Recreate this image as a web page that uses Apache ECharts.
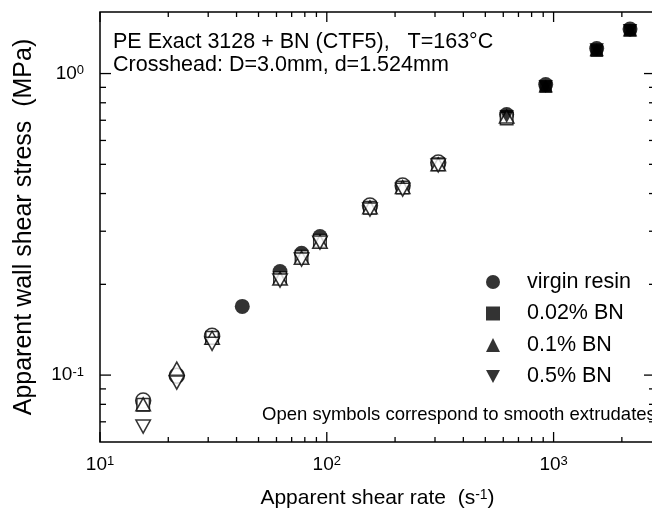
<!DOCTYPE html>
<html>
<head>
<meta charset="utf-8">
<script src="https://cdn.jsdelivr.net/npm/echarts@6/dist/echarts.min.js"></script>
<style>html,body{margin:0;padding:0;background:#fff}#c{width:652px;height:517px}</style>
</head>
<body>
<div id="c"></div>
<script>
// ---- data ----
const shearRate = [15.5, 21.8, 31.2, 42.4, 62.2, 77.4, 93.3, 155, 216, 310, 621, 923, 1549, 2173];
const virginResin = [0.0823, 0.0996, 0.135, 0.169, 0.2205, 0.2535, 0.288, 0.365, 0.425, 0.507, 0.731, 0.919, 1.21, 1.405];
const virginSmooth = [1, 1, 1, 0, 0, 0, 0, 1, 1, 1, 0, 0, 0, 0];
const bn002 = [0.0798, null, 0.133, null, 0.21, 0.247, 0.279, 0.359, 0.419, 0.50, 0.709, 0.905, 1.19, 1.39];
const bn002Smooth = [1, 1, 1, 1, 1, 1, 1, 1, 1, 1, 1, 0, 0, 0];
const bn01 = [0.080, 0.1051, 0.133, null, 0.209, 0.245, 0.277, 0.36, 0.42, 0.50, 0.72, 0.91, 1.20, 1.395];
const bn01Smooth = [1, 1, 1, 1, 1, 1, 1, 1, 1, 1, 1, 0, 0, 0];
const bn05 = [0.0675, 0.0944, 0.127, null, 0.2058, 0.2416, 0.275, 0.354, 0.412, 0.496, 0.72, 0.905, 1.20, 1.39];
const bn05Smooth = [1, 1, 1, 1, 1, 1, 1, 1, 1, 1, 0, 0, 0, 0];
const seriesNames = ['virgin resin', '0.02% BN', '0.1% BN', '0.5% BN'];

const xMajorTicks = [10, 100, 1000];
const xMinorTicks = [20, 30, 40, 50, 60, 70, 80, 90, 200, 300, 400, 500, 600, 700, 800, 900, 2000];
const yMajorTicks = [0.1, 1];
const yMinorTicks = [0.07, 0.08, 0.09, 0.2, 0.3, 0.4, 0.5, 0.6, 0.7, 0.8, 0.9];
const xRange = [10, 2800];
const yRange = [0.06, 1.6];

// ---- chart ----
const FONT = '"Liberation Sans", Arial, Helvetica, sans-serif';
const chart = echarts.init(document.getElementById('c'), null, {renderer: 'canvas'});

function pts(vals, smooth) {
  const out = [];
  vals.forEach((v, i) => {
    if (v == null) return;
    const item = {value: [shearRate[i], v]};
    if (smooth[i]) item.itemStyle = {color: '#fff', borderColor: '#000', borderWidth: 1.5};
    out.push(item);
  });
  return out;
}
function powLabel(v) {
  const e = Math.log10(v);
  const r = Math.round(e);
  if (Math.abs(e - r) > 1e-6) return '';
  return '10{sup|' + r + '}';
}
const supRich = {sup: {fontSize: 13, verticalAlign: 'top', fontFamily: FONT, color: '#000'}};

const tickData = [];
xMajorTicks.forEach(v => tickData.push([v, 1, 0]));
xMinorTicks.forEach(v => tickData.push([v, 1, 1]));
yMajorTicks.forEach(v => tickData.push([20, v, 2]));
yMinorTicks.forEach(v => tickData.push([20, v, 3]));

const downTri = 'path://M0,0L14,0L7,13Z';
const symbols = ['circle', 'rect', 'triangle', downTri];
const sizes = [15, 12.5, [14.5, 13], [14.5, 13]];
const vals = [[virginResin, virginSmooth], [bn002, bn002Smooth], [bn01, bn01Smooth], [bn05, bn05Smooth]];

const scatterSeries = seriesNames.map((n, k) => ({
  name: n, type: 'scatter', symbol: symbols[k], symbolSize: sizes[k],
  itemStyle: {color: '#000'}, emphasis: {disabled: true},
  data: pts(vals[k][0], vals[k][1])
}));

chart.setOption({
  animation: false,
  backgroundColor: '#fff',
  grid: {left: 100, right: -3, top: 12, bottom: 75, containLabel: false, outerBoundsMode: 'none',
         show: true, borderColor: '#000', borderWidth: 1.5, backgroundColor: 'transparent'},
  xAxis: {
    type: 'log', logBase: 10, min: xRange[0], max: xRange[1],
    axisLine: {show: false}, axisTick: {show: false}, splitLine: {show: false},
    axisLabel: {formatter: powLabel, fontSize: 19, fontFamily: FONT, color: '#000', margin: 13, rich: supRich},
    name: 'Apparent shear rate  (s{sup|-1})', nameLocation: 'middle', nameGap: 46,
    nameTextStyle: {fontSize: 21, fontFamily: FONT, color: '#000', rich: {sup: {fontSize: 14, verticalAlign: 'top', fontFamily: FONT, color: '#000'}}}
  },
  yAxis: {
    type: 'log', logBase: 10, min: yRange[0], max: yRange[1],
    axisLine: {show: false}, axisTick: {show: false}, splitLine: {show: false},
    axisLabel: {formatter: powLabel, fontSize: 19, fontFamily: FONT, color: '#000', margin: 16, rich: supRich},
    name: 'Apparent wall shear stress  (MPa)', nameLocation: 'middle', nameGap: 63,
    nameTextStyle: {fontSize: 25, fontFamily: FONT, color: '#000'}
  },
  legend: {
    data: seriesNames, orient: 'vertical', left: 481, top: 266,
    itemWidth: 14, itemHeight: 14, itemGap: 9.5,
    textStyle: {fontSize: 21.5, fontFamily: FONT, color: '#000', padding: [0, 0, 0, 22]},
    selectedMode: false
  },
  graphic: [
    {type: 'text', left: 113, top: 31, style: {text: 'PE Exact 3128 + BN (CTF5),   T=163\u00B0C', font: '21.5px ' + FONT, fill: '#000'}},
    {type: 'text', left: 113, top: 54, style: {text: 'Crosshead: D=3.0mm, d=1.524mm', font: '21.5px ' + FONT, fill: '#000'}},
    {type: 'text', left: 262, top: 405, style: {text: 'Open symbols correspond to smooth extrudates', font: '18.5px ' + FONT, fill: '#000'}}
  ],
  series: scatterSeries.concat([{
    type: 'custom', name: 'ticks', silent: true, z: 5, clip: false,
    encode: {x: 0, y: 1},
    data: tickData,
    renderItem: function (params, api) {
      const cs = params.coordSys;
      const kind = api.value(2);
      const st = {stroke: '#000', lineWidth: 1.3};
      if (kind < 2) {
        const px = api.coord([api.value(0), 1])[0];
        const len = kind === 0 ? 10 : 5;
        return {type: 'group', children: [
          {type: 'line', shape: {x1: px, y1: cs.y + cs.height, x2: px, y2: cs.y + cs.height - len}, style: st},
          {type: 'line', shape: {x1: px, y1: cs.y, x2: px, y2: cs.y + len}, style: st}
        ]};
      } else {
        const py = api.coord([20, api.value(1)])[1];
        const len = kind === 2 ? 11 : 6;
        return {type: 'group', children: [
          {type: 'line', shape: {x1: cs.x, y1: py, x2: cs.x + len, y2: py}, style: st},
          {type: 'line', shape: {x1: cs.x + cs.width, y1: py, x2: cs.x + cs.width - len, y2: py}, style: st}
        ]};
      }
    }
  }])
});
</script>
</body>
</html>
